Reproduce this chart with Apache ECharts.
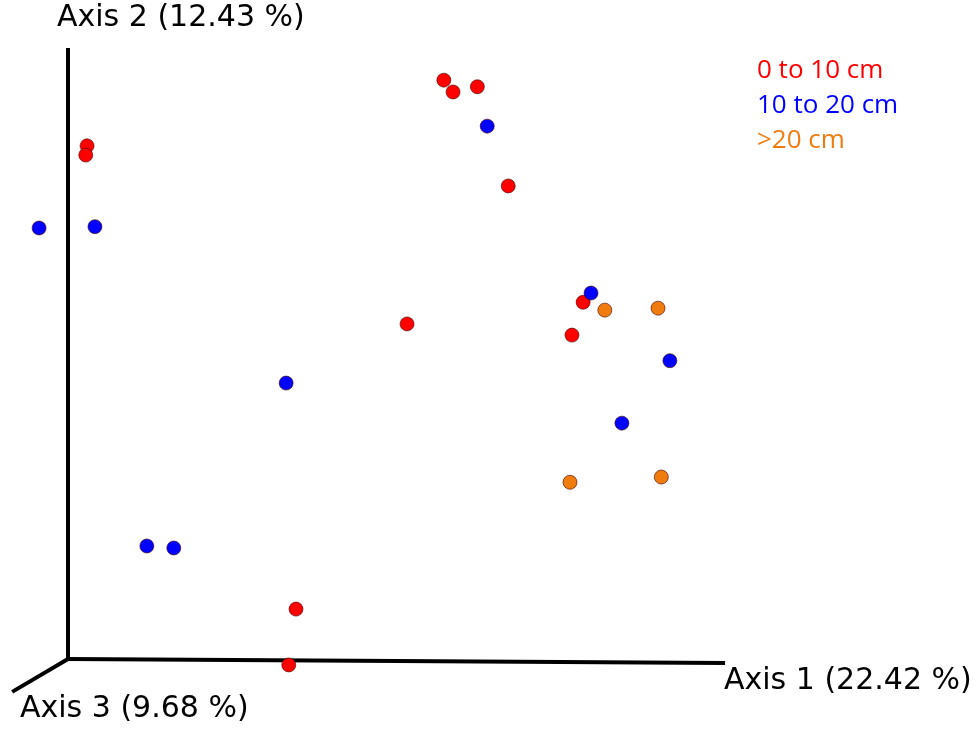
<!DOCTYPE html>
<html>
<head>
<meta charset="utf-8">
<script src="https://cdn.jsdelivr.net/npm/echarts@6/dist/echarts.min.js"></script>
<style>
  html, body { margin:0; padding:0; background:#fff; }
  #main { width:980px; height:733px; }
</style>
</head>
<body>
<div id="main"></div>
<script>
// projected PCoA scores (axis 1 length = 100 units)
var shallow = [ // 0 to 10 cm
    [2.9, 78.1], [2.7, 76.7], [57.2, 88.1], [58.6, 86.3], [62.3, 87.1],
    [67.0, 72.0], [51.6, 51.0], [78.4, 54.3], [76.7, 49.3], [34.7, 7.6], [33.6, -0.9]
];
var middle = [ // 10 to 20 cm
    [-4.4, 65.6], [4.1, 65.8], [63.8, 81.1], [79.6, 55.7], [91.6, 45.4],
    [84.3, 35.9], [33.2, 42.0], [12.0, 17.2], [16.1, 16.9]
];
var deep = [ // >20 cm
    [81.7, 53.1], [89.8, 53.4], [76.4, 26.9], [90.3, 27.7]
];
var axis1Line = [[0, 0], [100, -0.6]];
var axis2Line = [[0, 0], [0, 93]];
var axis3Line = [[0, 0], [-8.5, -5.0]];
var axisNames = ['Axis 1 (22.42 %)', 'Axis 2 (12.43 %)', 'Axis 3 (9.68 %)'];
var groupNames = ['0 to 10 cm', '10 to 20 cm', '>20 cm'];
var groupColors = ['#ff0000', '#0000ff', '#f07c10'];

var chart = echarts.init(document.getElementById('main'));

function axisSeries(d) {
    return {
        type: 'line', data: d, symbol: 'none', silent: true, z: 1,
        lineStyle: { color: '#000', width: 4 }
    };
}
function pointSeries(name, d, c) {
    return {
        name: name, type: 'scatter', data: d, symbolSize: 14, z: 5,
        itemStyle: { color: c, opacity: 1, borderColor: 'rgba(70,0,0,0.6)', borderWidth: 1 }
    };
}

var option = {
    animation: false,
    grid: { left: 0, right: 0, top: 0, bottom: 0 },
    xAxis: { type: 'value', min: -10.35, max: 138.8, show: false },
    yAxis: { type: 'value', min: -11.26, max: 100.3, show: false },
    legend: {
        orient: 'vertical', left: 747, top: 53, icon: 'none',
        itemWidth: 0, itemHeight: 4, itemGap: 9, selectedMode: false,
        textStyle: { fontFamily: 'Open Sans', fontSize: 26 },
        data: groupNames.map(function (n, i) {
            return { name: n, textStyle: { color: groupColors[i] } };
        })
    },
    graphic: [
        { type: 'text', left: 57, top: 3, style: { text: axisNames[1], font: '30px "DejaVu Sans"', fill: '#000' } },
        { type: 'text', left: 724, top: 666, style: { text: axisNames[0], font: '30px "DejaVu Sans"', fill: '#000' } },
        { type: 'text', left: 20, top: 694, style: { text: axisNames[2], font: '30px "DejaVu Sans"', fill: '#000' } }
    ],
    series: [
        axisSeries(axis1Line),
        axisSeries(axis2Line),
        axisSeries(axis3Line),
        pointSeries(groupNames[0], shallow, groupColors[0]),
        pointSeries(groupNames[1], middle, groupColors[1]),
        pointSeries(groupNames[2], deep, groupColors[2])
    ]
};
chart.setOption(option);
</script>
</body>
</html>
